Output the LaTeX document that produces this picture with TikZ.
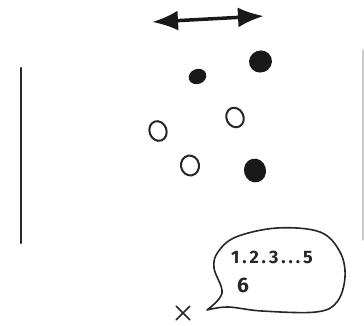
\documentclass[tikz,border=0pt]{standalone}
\usepackage{fontspec}
\usetikzlibrary{positioning, arrows.meta, shapes.geometric, shapes.misc}
\newfontfamily\handfont[LetterSpace=16]{Fira Sans}

\begin{document}
\begin{tikzpicture}[
  x=1pt, y=-1pt, line cap=round,
  pen/.style   = {line width=2.2pt, black!85},
  fulldot/.style = {ellipse, fill=black!90, inner sep=0pt},
  opendot/.style = {ellipse, draw=black!85, line width=2pt, inner sep=0pt},
  label/.style = {inner sep=0pt, black!85},
]
  \useasboundingbox (0,0) rectangle (364,325);

  % the two walls
  \coordinate (wtop) at (21,68);
  \coordinate (wbot) at (21,243);
  \draw[pen] (wtop) -- (wbot);
  \coordinate (rtop) at (363,50);
  \coordinate (rbot) at (363,240);
  \draw[line width=1.2pt, black!20] (rtop) -- (rbot);

  % sideways motion
  \coordinate (al) at (152,22);
  \coordinate (ar) at (264,16);
  \draw[line width=3.5pt, black!90, {Latex[length=26pt, width=20pt]}-{Latex[length=26pt, width=20pt]}] (al) -- (ar);

  % dots
  \node[fulldot, minimum width=18pt, minimum height=15pt, rotate=20]  (d1) at (197.5,76.5) {};
  \node[fulldot, minimum width=23pt, minimum height=22pt, rotate=20]  (d2) at (260.5,61.5) {};
  \node[opendot, minimum width=17pt, minimum height=20pt, rotate=25]  (d3) at (235,117.5) {};
  \node[opendot, minimum width=17pt, minimum height=20pt, rotate=20]  (d4) at (158,131)   {};
  \node[opendot, minimum width=18pt, minimum height=20pt, rotate=10]  (d5) at (190,165.5) {};
  \node[fulldot, minimum width=22pt, minimum height=24pt, rotate=15]  (d6) at (255,170.5) {};

  % observer and bubble
  \node[cross out, draw=black!85, line width=1.6pt, minimum size=12pt, inner sep=0pt] (spot) at (183,313) {};
  \draw[line width=1.6pt, black!85, line join=round]
    plot[smooth, tension=0.6] coordinates {
      (207,310) (222,293) (214,268) (218,252) (236,237) (277,228) (320,232)
      (340,252) (345,277) (337,302) (316,312) (262,311) (228,307) (207,310)};

  \node[label, font=\handfont\bfseries\fontsize{18}{18}\selectfont] (nums) at (272,257) {1.2.3...5};
  \node[label, font=\handfont\bfseries\fontsize{21}{21}\selectfont] (six)  at (243,285) {6};
\end{tikzpicture}
\end{document}
